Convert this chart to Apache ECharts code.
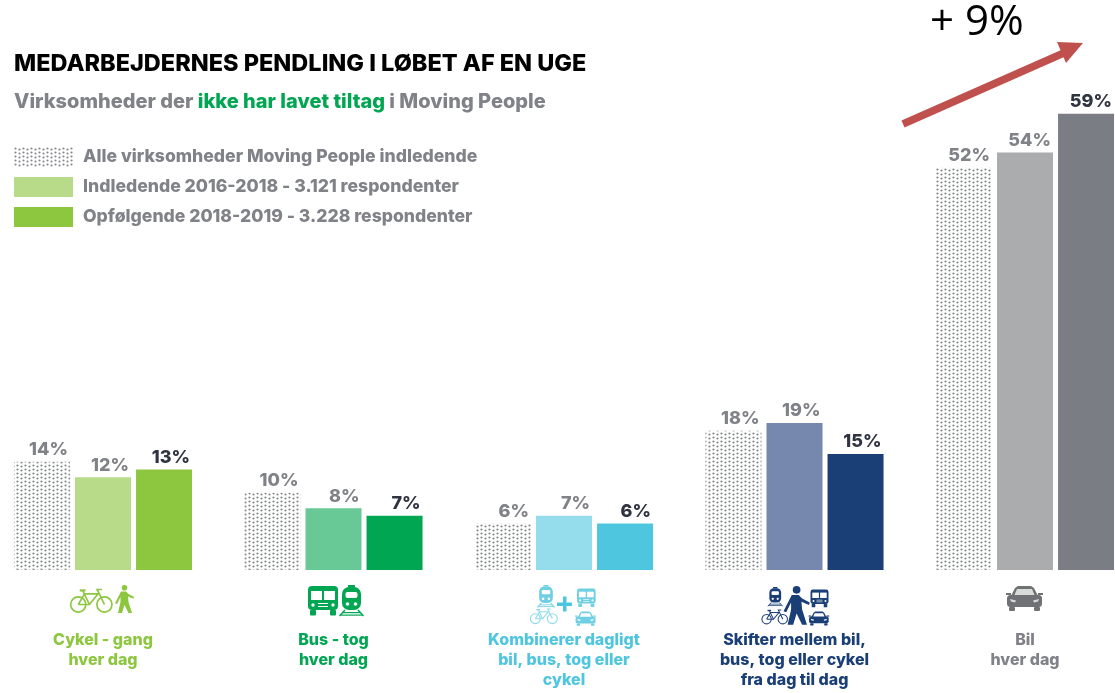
<!DOCTYPE html>
<html>
<head>
<meta charset="utf-8">
<style>
html, body { margin: 0; padding: 0; background: #fff; }
#main { width: 1115px; height: 693px; }
</style>
<script src="https://cdn.jsdelivr.net/npm/echarts@6/dist/echarts.min.js"></script>
</head>
<body>
<div id="main"></div>
<script>
const categories = [
  'Cykel - gang\nhver dag',
  'Bus - tog\nhver dag',
  'Kombinerer dagligt\nbil, bus, tog eller\ncykel',
  'Skifter mellem bil,\nbus, tog eller cykel\nfra dag til dag',
  'Bil\nhver dag'
]
const seriesNames = [
  'Alle virksomheder Moving People indledende',
  'Indledende 2016-2018 - 3.121 respondenter',
  'Opfølgende 2018-2019 - 3.228 respondenter'
]
const alleValues = [14, 10, 6, 18, 52]
const indledendeValues = [12, 8, 7, 19, 54]
const opfolgendeValues = [13, 7, 6, 15, 59]

const categoryColors = ['#8dc63f', '#00a651', '#4fc6df', '#1a3e76', '#808288']
const lightColors = ['#b8db8a', '#68c996', '#95dcec', '#7688ae', '#abacae']
const darkColors = ['#8dc63f', '#00a651', '#4fc6df', '#1a3e76', '#7a7d84']

const FONT = 'Inter'
const GREY = '#808288'
const DARK = '#2f3441'

// dotted fill for the first bar of each group
function dotPattern() {
  var c = document.createElement('canvas')
  c.width = 8
  c.height = 8
  var ctx = c.getContext('2d')
  ctx.fillStyle = '#85878b'
  ;[[1.5, 1.5], [5.5, 2.5], [1.5, 5.5], [5.5, 6.5]].forEach(function (p) {
    ctx.beginPath()
    ctx.arc(p[0], p[1], 1.1, 0, Math.PI * 2)
    ctx.fill()
  })
  return { image: c, repeat: 'repeat' }
}
const dots = dotPattern()

function barLabel(color) {
  return {
    show: true,
    position: ['100%', 0],
    align: 'right',
    verticalAlign: 'bottom',
    offset: [-2, -3],
    formatter: '{c}%',
    color: color,
    fontFamily: FONT,
    fontWeight: 800,
    fontSize: 18
  }
}

function coloured(values, colors) {
  return values.map(function (v, i) {
    return { value: v, itemStyle: { color: colors[i] } }
  })
}

var chart = echarts.init(document.getElementById('main'), null, { renderer: 'canvas' })

chart.setOption({
  animation: false,
  backgroundColor: '#fff',
  title: [
    {
      text: 'MEDARBEJDERNES PENDLING I LØBET AF EN UGE',
      left: 14, top: 52, padding: 0,
      textStyle: { fontFamily: FONT, fontWeight: 800, fontSize: 23.5, color: '#000' }
    },
    {
      text: '{g|Virksomheder der }{k|ikke har lavet tiltag}{g| i Moving People}',
      left: 14, top: 92, padding: 0,
      textStyle: {
        rich: {
          g: { fontFamily: FONT, fontWeight: 800, fontSize: 20, color: GREY },
          k: { fontFamily: FONT, fontWeight: 800, fontSize: 20, color: '#00a651' }
        }
      }
    }
  ],
  legend: {
    show: true,
    orient: 'vertical',
    left: 14, top: 147, padding: 0,
    itemWidth: 59, itemHeight: 20, itemGap: 10,
    icon: 'rect',
    selectedMode: false,
    textStyle: { fontFamily: FONT, fontWeight: 800, fontSize: 17.6, color: GREY, padding: [5, 0, 0, 5] }
  },
  grid: { left: 103, right: 90, top: 106, bottom: 123, containLabel: false },
  xAxis: {
    type: 'category',
    boundaryGap: false,
    data: categories.map(function (c, i) {
      return { value: c, textStyle: { color: categoryColors[i] } }
    }),
    axisLine: { show: false },
    axisTick: { show: false },
    axisLabel: {
      interval: 0,
      margin: 60,
      lineHeight: 20,
      fontFamily: FONT,
      fontWeight: 800,
      fontSize: 16
    }
  },
  yAxis: { type: 'value', min: 0, max: 60, show: false },
  series: [
    {
      name: seriesNames[0], type: 'bar', data: alleValues, barWidth: 56, barGap: '9%', clip: false,
      itemStyle: { color: dots }, label: barLabel(GREY), silent: true
    },
    {
      name: seriesNames[1], type: 'bar', data: coloured(indledendeValues, lightColors), barWidth: 56, clip: false,
      itemStyle: { color: lightColors[0] }, label: barLabel(GREY), silent: true
    },
    {
      name: seriesNames[2], type: 'bar', data: coloured(opfolgendeValues, darkColors), barWidth: 56, clip: false,
      itemStyle: { color: darkColors[0] }, label: barLabel(DARK), silent: true
    }
  ]
})

// small shape helpers for the pictograms
function rect(x, y, w, h, fill, r) {
  return { type: 'rect', shape: { x: x, y: y, width: w, height: h, r: r || 0 }, style: { fill: fill } }
}
function dot(x, y, r, fill) {
  return { type: 'circle', shape: { cx: x, cy: y, r: r }, style: { fill: fill } }
}
function ringLine(x, y, r, color, w) {
  return { type: 'circle', shape: { cx: x, cy: y, r: r }, style: { fill: 'none', stroke: color, lineWidth: w } }
}
function poly(points, fill) {
  return { type: 'polygon', shape: { points: points }, style: { fill: fill } }
}
function pline(points, color, w) {
  return { type: 'polyline', shape: { points: points }, style: { fill: 'none', stroke: color, lineWidth: w } }
}
function place(x, y, s, children) {
  return { type: 'group', x: x, y: y, scaleX: s, scaleY: s, silent: true, children: children }
}

function bike(x, y, s, col) {
  var w = 1.7
  return place(x, y, s, [
    ringLine(8.5, 17, 7.8, col, w), ringLine(35.5, 17, 7.8, col, w),
    pline([[8.5, 17], [15, 6], [29, 6], [20, 17], [8.5, 17]], col, w),
    pline([[13, 2.5], [20, 17]], col, w),
    pline([[35.5, 17], [28, 1.5], [33, 1.5]], col, w),
    pline([[10, 2.5], [16, 2.5]], col, w + 0.6)
  ])
}
function walker(x, y, s, col) {
  return place(x, y, s, [
    dot(9.5, 2.8, 2.8, col),
    poly([[6, 6.5], [11, 6.5], [13.5, 9], [19, 12], [18.5, 13.8], [13, 11.5], [13.5, 17], [17, 28], [13.5, 28], [9.5, 20],
      [7, 28], [3, 28], [5.5, 17], [5.5, 12], [2, 19], [0, 18.3]], col)
  ])
}
function bus(x, y, s, col, bg) {
  return place(x, y, s, [
    rect(0, 1, 30, 24, col, 4),
    rect(3, 6, 11, 9, bg), rect(16, 6, 11, 9, bg),
    dot(5, 20, 1.7, bg), dot(25, 20, 1.7, bg),
    rect(10, 18, 10, 1, bg), rect(10, 21, 10, 1, bg),
    rect(2, 25, 6, 5.5, col, 1), rect(22, 25, 6, 5.5, col, 1)
  ])
}
function train(x, y, s, col, bg) {
  return place(x, y, s, [
    rect(9, 0, 7, 2, col),
    rect(3, 2, 19, 23, col, 7),
    rect(6.5, 7, 12, 6, bg, 2),
    dot(8.5, 19, 1.8, bg), dot(16.5, 19, 1.8, bg),
    pline([[6, 25], [0.5, 31]], col, 1.5), pline([[19, 25], [24.5, 31]], col, 1.5),
    rect(4, 27, 17, 1.2, col), rect(2, 29.5, 21, 1.2, col)
  ])
}
function car(x, y, s, col, glass) {
  return place(x, y, s, [
    poly([[5, 11], [9, 3], [12, 1], [25, 1], [28, 3], [32, 11]], col),
    rect(1, 10, 35, 12, col, 3.5),
    rect(0, 8, 5, 2, col), rect(32, 8, 5, 2, col),
    poly([[8.5, 10], [11, 4], [26, 4], [28.5, 10]], glass),
    poly([[4, 14], [10, 15.5], [9, 17.5], [5, 16.5]], glass), poly([[33, 14], [27, 15.5], [28, 17.5], [32, 16.5]], glass),
    rect(3, 22, 6, 4, col, 1), rect(28, 22, 6, 4, col, 1)
  ])
}

function drawIcons() {
  var cx = categories.map(function (c, i) { return chart.convertToPixel({ xAxisIndex: 0 }, i) })
  var lime = categoryColors[0], green = categoryColors[1], cyan = categoryColors[2], navy = categoryColors[3]
  var els = [
    // cycling and walking
    bike(cx[0] - 33, 588, 0.97, lime),
    walker(cx[0] + 12, 585, 1, lime),
    // bus and train
    bus(cx[1] - 25.5, 585, 1, green, '#fff'),
    train(cx[1] + 5.5, 585, 1, green, '#fff'),
    // combined
    train(cx[2] - 27, 585, 0.72, '#6fcfe3', '#fff'),
    rect(cx[2] - 7, 602.5, 15, 3.5, cyan), rect(cx[2] - 1, 596.5, 3.5, 15, cyan),
    bus(cx[2] + 13, 588, 0.62, '#6fcfe3', '#fff'),
    car(cx[2] + 11, 611, 0.57, '#6fcfe3', '#fff'),
    bike(cx[2] - 34, 608, 0.63, '#8fdaea'),
    // switching
    train(cx[3] - 27, 587, 0.62, navy, '#fff'),
    bike(cx[3] - 33, 609, 0.6, navy),
    walker(cx[3] - 11, 586, 1.38, navy),
    bus(cx[3] + 16, 589, 0.6, navy, '#fff'),
    car(cx[3] + 14, 611, 0.56, navy, '#fff'),
    // car
    car(cx[4] - 19, 585, 1, '#6f7174', '#d8dcd8'),
    // arrow and its note
    {
      type: 'line', silent: true,
      shape: { x1: 903, y1: 124, x2: 1066, y2: 52 },
      style: { stroke: '#c0504d', lineWidth: 7.5 }
    },
    { type: 'polygon', silent: true, shape: { points: [[1083, 43], [1057, 42], [1066, 63]] }, style: { fill: '#c0504d' } },
    {
      type: 'text', silent: true, x: 930, y: 2,
      style: { text: '+ 9%', fontFamily: 'Open Sans', fontSize: 42, fill: '#000' }
    }
  ]
  chart.setOption({ graphic: { elements: els } })
}
drawIcons()
</script>
</body>
</html>
